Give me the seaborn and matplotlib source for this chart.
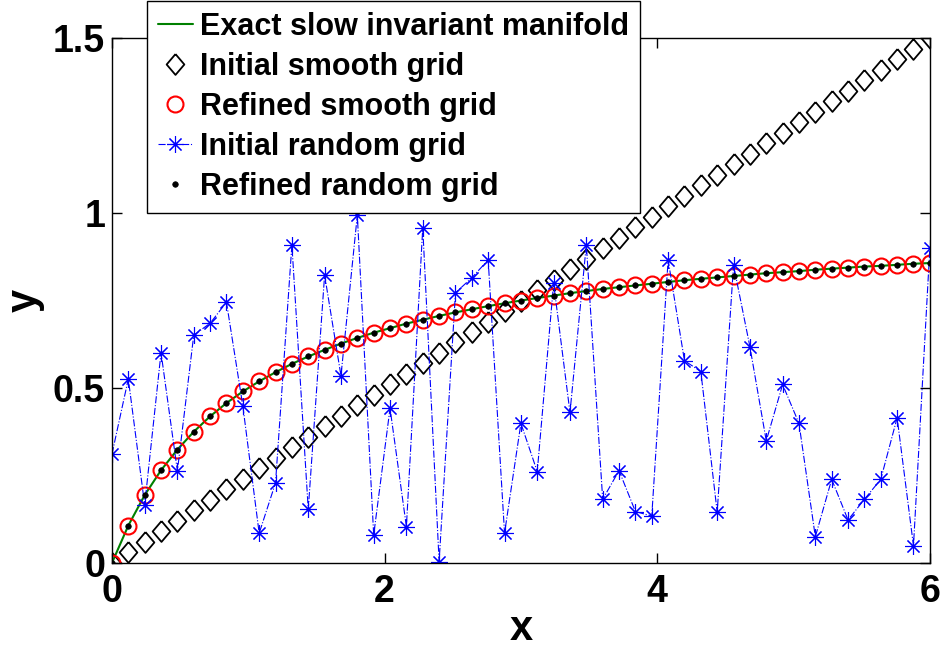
import matplotlib
matplotlib.use("Agg")
import matplotlib.pyplot as plt
import seaborn as sns

# grid positions (same for all series)
x_grid = [0.00, 0.12, 0.24, 0.36, 0.48, 0.60, 0.72, 0.84, 0.96, 1.08,
          1.20, 1.32, 1.44, 1.56, 1.68, 1.80, 1.92, 2.04, 2.16, 2.28,
          2.40, 2.52, 2.64, 2.76, 2.88, 3.00, 3.12, 3.24, 3.36, 3.48,
          3.60, 3.72, 3.84, 3.96, 4.08, 4.20, 4.32, 4.44, 4.56, 4.68,
          4.80, 4.92, 5.04, 5.16, 5.28, 5.40, 5.52, 5.64, 5.76, 5.88, 6.00]

y_manifold = [0.000, 0.107, 0.194, 0.265, 0.324, 0.375, 0.419, 0.457, 0.490, 0.519,
              0.545, 0.569, 0.590, 0.609, 0.627, 0.643, 0.658, 0.671, 0.684, 0.695,
              0.706, 0.716, 0.725, 0.734, 0.742, 0.750, 0.757, 0.764, 0.771, 0.777,
              0.783, 0.788, 0.793, 0.798, 0.803, 0.808, 0.812, 0.816, 0.820, 0.824,
              0.828, 0.831, 0.834, 0.838, 0.841, 0.844, 0.847, 0.849, 0.852, 0.855, 0.857]

y_initial_smooth = [0.00, 0.03, 0.06, 0.09, 0.12, 0.15, 0.18, 0.21, 0.24, 0.27,
                    0.30, 0.33, 0.36, 0.39, 0.42, 0.45, 0.48, 0.51, 0.54, 0.57,
                    0.60, 0.63, 0.66, 0.69, 0.72, 0.75, 0.78, 0.81, 0.84, 0.87,
                    0.90, 0.93, 0.96, 0.99, 1.02, 1.05, 1.08, 1.11, 1.14, 1.17,
                    1.20, 1.23, 1.26, 1.29, 1.32, 1.35, 1.38, 1.41, 1.44, 1.47, 1.50]

y_refined_smooth = y_manifold
y_refined_random = y_manifold

y_initial_random = [0.311, 0.526, 0.166, 0.601, 0.263, 0.651, 0.685, 0.745, 0.449, 0.085,
                    0.229, 0.909, 0.153, 0.823, 0.535, 0.994, 0.080, 0.442, 0.104, 0.958,
                    0.004, 0.772, 0.815, 0.866, 0.085, 0.399, 0.261, 0.799, 0.430, 0.909,
                    0.182, 0.264, 0.147, 0.134, 0.866, 0.578, 0.547, 0.145, 0.851, 0.618,
                    0.349, 0.510, 0.399, 0.075, 0.239, 0.123, 0.182, 0.239, 0.415, 0.049, 0.899]

sns.set_style("white")
plt.rcParams["font.family"] = ["Liberation Sans", "DejaVu Sans"]
plt.rcParams["font.weight"] = "bold"
plt.rcParams["text.color"] = "black"
plt.rcParams["axes.labelcolor"] = "black"
plt.rcParams["xtick.color"] = "black"
plt.rcParams["ytick.color"] = "black"

fig = plt.figure(figsize=(9.44, 6.51), dpi=100)
ax = fig.add_axes([0.1186, 0.1352, 0.8664, 0.8064])

diamond = [(0, 1), (0.85, 0), (0, -1), (-0.85, 0), (0, 1)]

sns.lineplot(x=x_grid, y=y_manifold, color=(0, 0.5, 0), linewidth=1.5,
             label="Exact slow invariant manifold", ax=ax, sort=False)
sns.lineplot(x=x_grid, y=y_initial_smooth, linestyle="none", marker=diamond,
             markersize=15, markerfacecolor="none", markeredgecolor="black",
             markeredgewidth=1.3, color="black", label="Initial smooth grid", ax=ax, sort=False)
sns.lineplot(x=x_grid, y=y_refined_smooth, linestyle="none", marker="o",
             markersize=11.5, markerfacecolor="none", markeredgecolor="red",
             markeredgewidth=1.5, color="red", label="Refined smooth grid", ax=ax, sort=False)
sns.lineplot(x=x_grid, y=y_initial_random, linestyle="-.", linewidth=0.8, marker=(8, 2, 0),
             markersize=12, markeredgecolor="blue", markeredgewidth=0.8, color="blue",
             label="Initial random grid", ax=ax, sort=False)
sns.lineplot(x=x_grid, y=y_refined_random, linestyle="none", marker="o",
             markersize=4, markerfacecolor="black", markeredgecolor="black",
             markeredgewidth=0.5, color="black", label="Refined random grid", ax=ax, sort=False)

ax.set_xlim(0, 6)
ax.set_ylim(0, 1.5)
ax.set_xticks([0, 2, 4, 6])
ax.set_yticks([0, 0.5, 1, 1.5])
ax.set_yticklabels(["0", "0.5", "1", "1.5"])
ax.tick_params(direction="in", length=7, width=1, labelsize=27, top=True, right=True,
               bottom=True, left=True, pad=5, colors="black")
ax.tick_params(axis="x", pad=8)
for lbl in ax.get_xticklabels() + ax.get_yticklabels():
    lbl.set_fontweight("bold")
for s in ax.spines.values():
    s.set_color("black")
    s.set_linewidth(1.0)
    s.set_visible(True)

ax.set_xlabel("x", fontsize=30, fontweight="bold", labelpad=-1)
ax.set_ylabel("y", fontsize=30, fontweight="bold", labelpad=6)

leg = ax.legend(loc="upper left", bbox_to_anchor=(147 / 944, 1 - 1 / 651),
                bbox_transform=fig.transFigure, fontsize=22, frameon=True,
                fancybox=False, framealpha=1, edgecolor="black", borderpad=0.35,
                labelspacing=0.33, handlelength=1.15, handletextpad=0.25, borderaxespad=0)
leg.get_frame().set_linewidth(1.0)
for t in leg.get_texts():
    t.set_fontweight("bold")

fig.savefig("out.png", dpi=100)
